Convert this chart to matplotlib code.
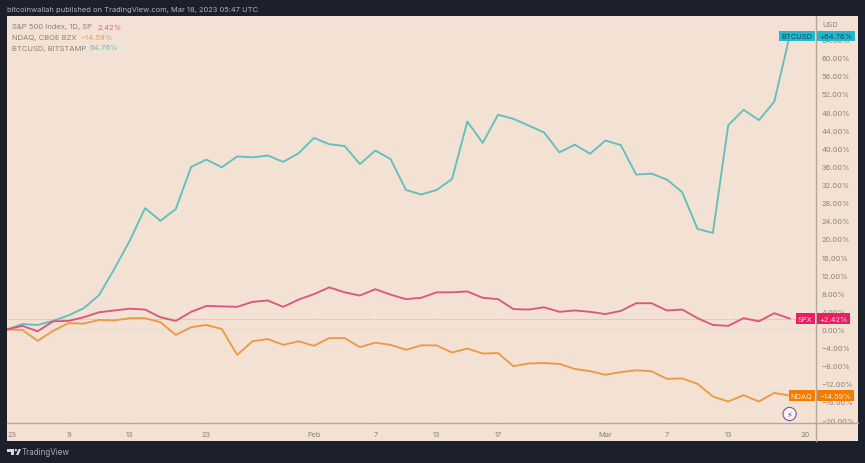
import matplotlib
matplotlib.use("Agg")
import matplotlib.pyplot as plt
from matplotlib.patches import Rectangle, Polygon, Circle
from matplotlib.transforms import Affine2D

plt.rcParams['font.family'] = ['Inter', 'DejaVu Sans']

W, H = 865, 464

btc = [0, 1.2, 1.0, 1.9, 3.1, 4.7, 7.6, 13.4, 19.6, 26.8, 24.0, 26.6, 35.9, 37.5, 35.8, 38.2, 38.0, 38.4,
       37.0, 38.9, 42.3, 40.9, 40.5, 36.5, 39.5, 37.6, 30.8, 29.8, 30.8, 33.2, 45.9, 41.2, 47.4, 46.5,
       45.0, 43.5, 39.1, 40.8, 38.8, 41.7, 40.7, 34.2, 34.4, 33.1, 30.3, 22.2, 21.3, 45.1, 48.5, 46.2,
       50.3, 64.76]
spx = [0, 0.8, -0.4, 1.8, 1.9, 2.7, 3.8, 4.2, 4.6, 4.4, 2.7, 1.9, 3.9, 5.2, 5.1, 5.0, 6.1, 6.4,
       5.0, 6.6, 7.8, 9.3, 8.2, 7.5, 8.9, 7.7, 6.7, 7.0, 8.2, 8.2, 8.4, 7.0, 6.7, 4.5,
       4.4, 4.9, 3.9, 4.2, 3.9, 3.4, 4.1, 5.8, 5.8, 4.2, 4.4, 2.5, 1.0, 0.8, 2.5, 1.8,
       3.6, 2.42]
ndaq = [0, -0.1, -2.5, -0.3, 1.4, 1.3, 2.1, 2.0, 2.5, 2.5, 1.6, -1.2, 0.5, 1.0, 0.1, -5.6, -2.6, -2.1,
        -3.4, -2.6, -3.6, -1.9, -1.9, -3.9, -2.9, -3.4, -4.5, -3.5, -3.5, -5.1, -4.2, -5.3, -5.2, -8.1,
        -7.5, -7.4, -7.6, -8.7, -9.2, -10.0, -9.4, -9.0, -9.2, -10.9, -10.8, -12.0, -14.8, -15.9, -14.5, -15.9,
        -14.0, -14.59]
x_ticks = [0, 4, 8, 13, 20, 24, 28, 32, 39, 43, 47, 52]
x_labels = ['23', '9', '13', '23', 'Feb', '7', '13', '17', 'Mar', '7', '13', '20']
y_ticks = list(range(-20, 65, 4))

DARK = '#1b202c'
PANEL = '#f3e2d3'
GRID = '#f4e5d7'
TEXT = '#8b8379'
AXIS = '#b3a89c'
C_BTC, C_SPX, C_NDAQ = '#62bfbe', '#d9587f', '#eb9a45'
BOX_BTC, BOX_SPX, BOX_NDAQ = '#22b8d0', '#e91e63', '#f57c00'

fig = plt.figure(figsize=(W / 100, H / 100), dpi=100, facecolor=DARK)
# pixel coords from top left, easier to compare with the reference
px = Affine2D().scale(1, -1).translate(0, H)

fig.add_artist(Rectangle((7, 17), 851, 425, transform=px, facecolor=PANEL, edgecolor='none', zorder=-1))

left, right, top, bottom = 7, 815.7, 17, 424
ax = fig.add_axes([left / W, 1 - bottom / H, (right - left) / W, (bottom - top) / H])
ax.patch.set_alpha(0)
ax.set_xlim(0, 52.7)
ax.set_ylim(-20.64, 69.2)

ax.plot(btc, color=C_BTC, lw=1.35, zorder=3)
ax.plot(spx, color=C_SPX, lw=1.35, zorder=4)
ax.plot(ndaq, color=C_NDAQ, lw=1.35, zorder=3)

ax.grid(True, color=GRID, lw=0.6, zorder=0)
ax.axhline(0, color='#e0d2c5', lw=1, zorder=1)
ax.axhline(spx[-1], color='#efc4b8', lw=0.8, zorder=1)

ax.set_xticks(x_ticks, x_labels)
ax.xaxis.get_ticklabels()[0].set_horizontalalignment('left')
ax.set_yticks(y_ticks, [f"{v:.2f}%".replace('-', '\u2212') for v in y_ticks])
ax.yaxis.tick_right()
ax.tick_params(axis='both', length=0, labelsize=5.4, labelcolor=TEXT)
ax.tick_params(axis='x', pad=6)
ax.tick_params(axis='y', pad=4)

for s in ['top', 'left']:
    ax.spines[s].set_visible(False)
for s in ['bottom', 'right']:
    ax.spines[s].set_color(AXIS)
    ax.spines[s].set_linewidth(1.0)
# price axis line runs down past the time axis
fig.add_artist(plt.Line2D([right, right], [424, 442], transform=px, color=AXIS, lw=1.0))
fig.add_artist(plt.Line2D([right, 858], [424, 424], transform=px, color=AXIS, lw=1.0))


def end_label(name, value, txt, box, name_color):
    ax.annotate(name, xy=(1, value), xycoords=('axes fraction', 'data'), xytext=(-3, 0), textcoords='offset pixels',
                ha='right', va='center', fontsize=5.4, color=name_color, zorder=6, annotation_clip=False,
                bbox=dict(boxstyle='square,pad=0.3', facecolor=box, edgecolor='none'))
    ax.annotate(txt, xy=(1, value), xycoords=('axes fraction', 'data'), xytext=(4, 0), textcoords='offset pixels',
                ha='left', va='center', fontsize=5.4, color=name_color, zorder=6, annotation_clip=False,
                bbox=dict(boxstyle='square,pad=0.3', facecolor=box, edgecolor='none'))


end_label('BTCUSD', btc[-1], '+64.76%', BOX_BTC, '#0f4a57')
end_label('SPX', spx[-1], '+2.42%', BOX_SPX, '#fbd5e0')
end_label('NDAQ', ndaq[-1], '\u221214.59%', BOX_NDAQ, '#fde6cc')

ax.text(51, -18.65, '\u26a1', ha='center', va='center', fontsize=6, color='#6a3fb5', zorder=6,
        family=['DejaVu Sans'],
        bbox=dict(boxstyle='circle,pad=0.25', facecolor='#fbf3ec', edgecolor='#7a4fc0', lw=0.8))

fig.text(7 / W, 1 - 10 / H, 'bitcoinwallah published on TradingView.com, Mar 18, 2023 05:47 UTC',
         color='#aeb3bd', fontsize=5.4, va='center')
fig.text(12 / W, 1 - 27.5 / H, 'S&P 500 Index, 1D, SP', color=TEXT, fontsize=5.5, va='center')
fig.text(97 / W, 1 - 27.5 / H, '2.42%', color='#e0608a', fontsize=5.5, va='center')
fig.text(12 / W, 1 - 38 / H, 'NDAQ, CBOE BZX', color=TEXT, fontsize=5.5, va='center')
fig.text(80 / W, 1 - 38 / H, '\u221214.59%', color='#eda050', fontsize=5.5, va='center')
fig.text(12 / W, 1 - 48.5 / H, 'BTCUSD, BITSTAMP', color=TEXT, fontsize=5.5, va='center')
fig.text(89 / W, 1 - 48.5 / H, '64.76%', color='#62c4c4', fontsize=5.5, va='center')
fig.text(822 / W, 1 - 25 / H, 'USD', color=TEXT, fontsize=5.4, va='center')

# TradingView logo and name in the footer
logo = '#d5d8de'
fig.add_artist(Polygon([(7, 450), (14, 450), (14, 456), (11, 456), (11, 452.5), (7, 452.5)], transform=px,
                       facecolor=logo, edgecolor='none'))
fig.add_artist(Polygon([(16, 456), (18.5, 450), (21, 450), (18.5, 456)], transform=px, facecolor=logo,
                       edgecolor='none'))
fig.add_artist(Circle((15.8, 451.2), 1.2, transform=px, facecolor=logo, edgecolor='none'))
fig.text(22 / W, 1 - 453 / H, 'TradingView', color='#a9adb6', fontsize=5.8, va='center')

fig.savefig('out.png', dpi=100, facecolor=fig.get_facecolor())
